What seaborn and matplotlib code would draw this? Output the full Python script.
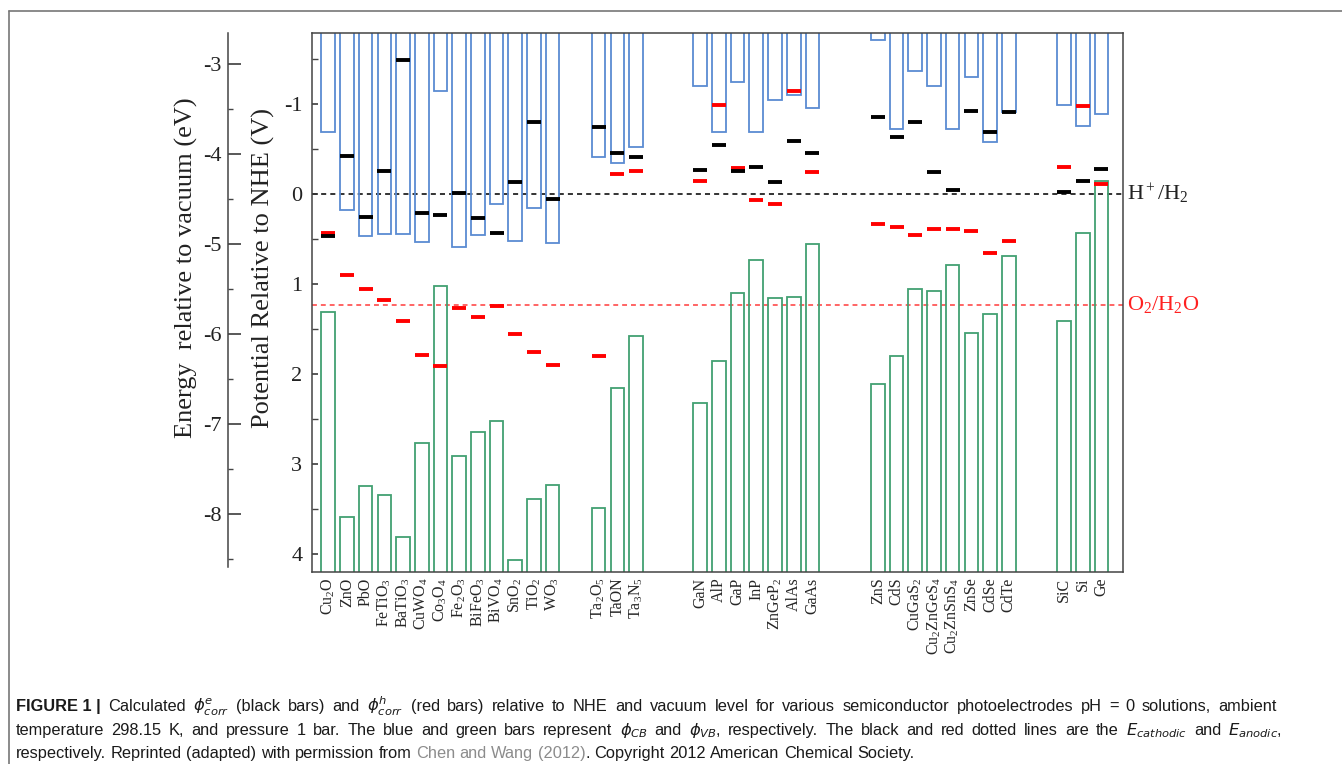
import numpy as np
import pandas as pd
import matplotlib
matplotlib.use("Agg")
import matplotlib.pyplot as plt
import seaborn as sns
from matplotlib.ticker import MultipleLocator
from matplotlib.lines import Line2D

# materials, in plotting order, split into five groups
materials = [
    "Cu$_2$O", "ZnO", "PbO", "FeTiO$_3$", "BaTiO$_3$", "CuWO$_4$", "Co$_3$O$_4$",
    "Fe$_2$O$_3$", "BiFeO$_3$", "BiVO$_4$", "SnO$_2$", "TiO$_2$", "WO$_3$",
    "Ta$_2$O$_5$", "TaON", "Ta$_3$N$_5$",
    "GaN", "AlP", "GaP", "InP", "ZnGeP$_2$", "AlAs", "GaAs",
    "ZnS", "CdS", "CuGaS$_2$", "Cu$_2$ZnGeS$_4$", "Cu$_2$ZnSnS$_4$", "ZnSe", "CdSe", "CdTe",
    "SiC", "Si", "Ge",
]
group_sizes = [13, 3, 7, 8, 3]
group_starts = [0, 14.46, 19.89, 29.39, 39.35]

# conduction band edge (V vs NHE)
phi_cb = [-0.69, 0.18, 0.47, 0.44, 0.44, 0.53, -1.15, 0.59, 0.45, 0.11, 0.52, 0.16, 0.54,
          -0.41, -0.34, -0.52,
          -1.20, -0.69, -1.24, -0.69, -1.04, -1.10, -0.96,
          -1.71, -0.72, -1.37, -1.20, -0.72, -1.30, -0.58, -0.91,
          -0.99, -0.76, -0.89]
# valence band edge (V vs NHE)
phi_vb = [1.31, 3.59, 3.24, 3.34, 3.81, 2.77, 1.02, 2.91, 2.64, 2.52, 4.07, 3.39, 3.23,
          3.49, 2.16, 1.58,
          2.32, 1.85, 1.10, 0.73, 1.16, 1.14, 0.55,
          2.11, 1.80, 1.06, 1.08, 0.79, 1.54, 1.33, 0.69,
          1.41, 0.43, -0.14]
# electron corrosion potential (black bars)
phi_e_corr = [0.47, -0.42, 0.26, -0.26, -1.49, 0.21, 0.23, -0.01, 0.27, 0.43, -0.13, -0.80, 0.05,
              -0.74, -0.46, -0.41,
              -0.27, -0.54, -0.26, -0.30, -0.13, -0.59, -0.46,
              -0.86, -0.63, -0.80, -0.24, -0.05, -0.92, -0.69, -0.91,
              -0.02, -0.14, -0.28]
# hole corrosion potential (red bars)
phi_h_corr = [0.43, 0.90, 1.05, 1.18, 1.41, 1.79, 1.91, 1.27, 1.37, 1.24, 1.56, 1.76, 1.90,
              1.80, -0.22, -0.26,
              -0.14, -0.99, -0.29, 0.07, 0.11, -1.15, -0.25,
              0.33, 0.37, 0.46, 0.39, 0.39, 0.41, 0.65, 0.52,
              -0.30, -0.98, -0.11]
e_cathodic = 0.0
e_anodic = 1.23
vacuum_offset = -4.44

caption_1 = [("FIGURE 1 |", dict(weight="bold", whole=True)),
             (r"Calculated $\phi^{e}_{corr}$ (black bars) and $\phi^{h}_{corr}$ (red bars) relative to NHE and vacuum level "
              "for various semiconductor photoelectrodes pH = 0 solutions, ambient", {})]
caption_2 = [(r"temperature 298.15 K, and pressure 1 bar. The blue and green bars represent $\phi_{CB}$ and $\phi_{VB}$, "
              r"respectively. The black and red dotted lines are the $E_{cathodic}$ and $E_{anodic}$,", {})]
caption_3 = [("respectively. Reprinted (adapted) with permission from", {}),
             ("Chen and Wang (2012)", dict(color="#8c8c8c")),
             (". Copyright 2012 American Chemical Society.", dict(glue=True))]

pos = np.concatenate([s + np.arange(n) for s, n in zip(group_starts, group_sizes)])
df = pd.DataFrame({"material": materials, "pos": pos, "cb": phi_cb, "vb": phi_vb,
                   "e_corr": phi_e_corr, "h_corr": phi_h_corr})

sns.set_theme(style="white")
plt.rcParams["font.family"] = ["Liberation Serif", "DejaVu Serif"]
plt.rcParams["mathtext.fontset"] = "custom"
plt.rcParams["mathtext.rm"] = "Liberation Serif"
plt.rcParams["mathtext.it"] = "Liberation Serif:italic"
plt.rcParams["mathtext.bf"] = "Liberation Serif:bold"
plt.rcParams["axes.unicode_minus"] = False

W, H = 1342, 764
fig = plt.figure(figsize=(W / 100, H / 100), dpi=100)
ax = fig.add_axes([312 / W, 1 - 572 / H, (1123 - 312) / W, (572 - 33) / H])

y_top, y_bot = -1.79, 4.2
bar_w = 0.73
blue, green = "#5a8bd2", "#42a072"

# CB bars hang from above the frame, VB bars rise from below it
ax.bar(df["pos"], df["cb"] - (y_top - 1), bottom=y_top - 1, width=bar_w,
       facecolor="none", edgecolor=blue, linewidth=1.3, zorder=2)
ax.bar(df["pos"], df["vb"] - (y_bot + 1), bottom=y_bot + 1, width=bar_w,
       facecolor="none", edgecolor=green, linewidth=1.3, zorder=2)

ax.axhline(e_cathodic, color="#333333", lw=1.4, ls=(0, (2.6, 2.1)), zorder=1)
ax.axhline(e_anodic, color="#ff3b3b", lw=1.1, ls=(0, (3.2, 2.6)), zorder=1)

sns.scatterplot(data=df, x="pos", y="h_corr", marker="_", s=95, color="#ff0000",
                linewidth=2.8, ax=ax, zorder=3)
sns.scatterplot(data=df, x="pos", y="e_corr", marker="_", s=95, color="black",
                linewidth=2.8, ax=ax, zorder=4)

ax.set_xlim(-0.87, 42.5)
ax.set_ylim(y_bot, y_top)
ax.set_xticks(pos)
ax.set_xticklabels(materials, rotation=90, fontsize=11.5)
ax.tick_params(axis="x", length=0, pad=4)
ax.yaxis.set_major_locator(MultipleLocator(1))
ax.yaxis.set_minor_locator(MultipleLocator(0.5))
ax.tick_params(axis="y", which="both", direction="in", left=True, right=True,
               labelsize=16, pad=7, color="#444444", labelcolor="#222222")
ax.tick_params(axis="y", which="major", length=4.5)
ax.tick_params(axis="y", which="minor", length=4)
for s in ax.spines.values():
    s.set_color("#444444")
    s.set_linewidth(1.1)
ax.set_xlabel("")
ax.set_ylabel("Potential Relative to NHE (V)", fontsize=19, color="#222222")
ax.yaxis.set_label_coords(-0.046, 0.564)

ax.text(1.005, e_cathodic, "H$^+$/H$_2$", transform=ax.get_yaxis_transform(),
        fontsize=16, va="center", ha="left", color="#222222")
ax.text(1.005, e_anodic, "O$_2$/H$_2$O", transform=ax.get_yaxis_transform(),
        fontsize=16, va="center", ha="left", color="#ff2020")

# vacuum scale on a second left spine
ax2 = ax.twinx()
for side in ["right", "top", "bottom"]:
    ax2.spines[side].set_visible(False)
ax2.spines["left"].set_visible(True)
ax2.spines["left"].set_position(("outward", 60.5))
ax2.spines["left"].set_color("#444444")
ax2.spines["left"].set_linewidth(1.1)
ax2.yaxis.set_ticks_position("left")
ax2.yaxis.set_label_position("left")
ax2.set_ylim(vacuum_offset - y_bot, vacuum_offset - y_top)
ax2.spines["left"].set_bounds(-8.58, vacuum_offset - y_top)
ax2.yaxis.set_major_locator(MultipleLocator(1))
ax2.yaxis.set_minor_locator(MultipleLocator(0.5))
ax2.tick_params(axis="y", which="both", direction="in", labelsize=16, pad=4.5,
                color="#444444", labelcolor="#222222")
ax2.tick_params(axis="y", which="major", length=9.4)
ax2.tick_params(axis="y", which="minor", length=3.8)
ax2.set_ylabel("Energy  relative to vacuum (eV)", fontsize=19, color="#222222")
ax2.yaxis.set_label_coords(-0.141, 0.564)

# frame around the figure panel
fig.add_artist(Line2D([9 / W, 1], [1 - 11 / H, 1 - 11 / H], transform=fig.transFigure,
                      color="#777777", lw=1.2))
fig.add_artist(Line2D([9 / W, 9 / W], [1 - 11 / H, 0], transform=fig.transFigure,
                      color="#777777", lw=1.2))

# caption: justified lines, drawn word by word so the link can be grey
cap_kw = dict(family=["Liberation Sans Narrow", "Liberation Sans"], fontsize=11.8,
              color="#1a1a1a", math_fontfamily="dejavusans", va="baseline", ha="left")
renderer = fig.canvas.get_renderer()


def text_width(s, **kw):
    t = fig.text(0, 0, s, **{**cap_kw, **kw})
    w = t.get_window_extent(renderer).width
    t.remove()
    return w


space_w = text_width("a a") - text_width("aa")


def put_line(y_px, parts, x_left=16, x_right=None):
    words = []
    for text, style in parts:
        style = dict(style)
        glue = style.pop("glue", False)
        whole = style.pop("whole", False)
        chunks = [text] if whole else text.split()
        for i, w in enumerate(chunks):
            words.append((w, style, glue and i == 0))
    widths = [text_width(w, **st) for w, st, _ in words]
    n_gaps = sum(1 for _, _, g in words[1:] if not g)
    if x_right is None:
        gap = space_w
    else:
        gap = (x_right - x_left - sum(widths)) / n_gaps
    x = x_left
    for k, ((w, st, g), wd) in enumerate(zip(words, widths)):
        if k > 0 and not g:
            x += gap
        fig.text(x / W, 1 - y_px / H, w, **{**cap_kw, **st})
        x += wd


put_line(711, caption_1, x_right=1277)
put_line(735, caption_2, x_right=1282)
put_line(758, caption_3)

fig.savefig("out.png", dpi=100)
